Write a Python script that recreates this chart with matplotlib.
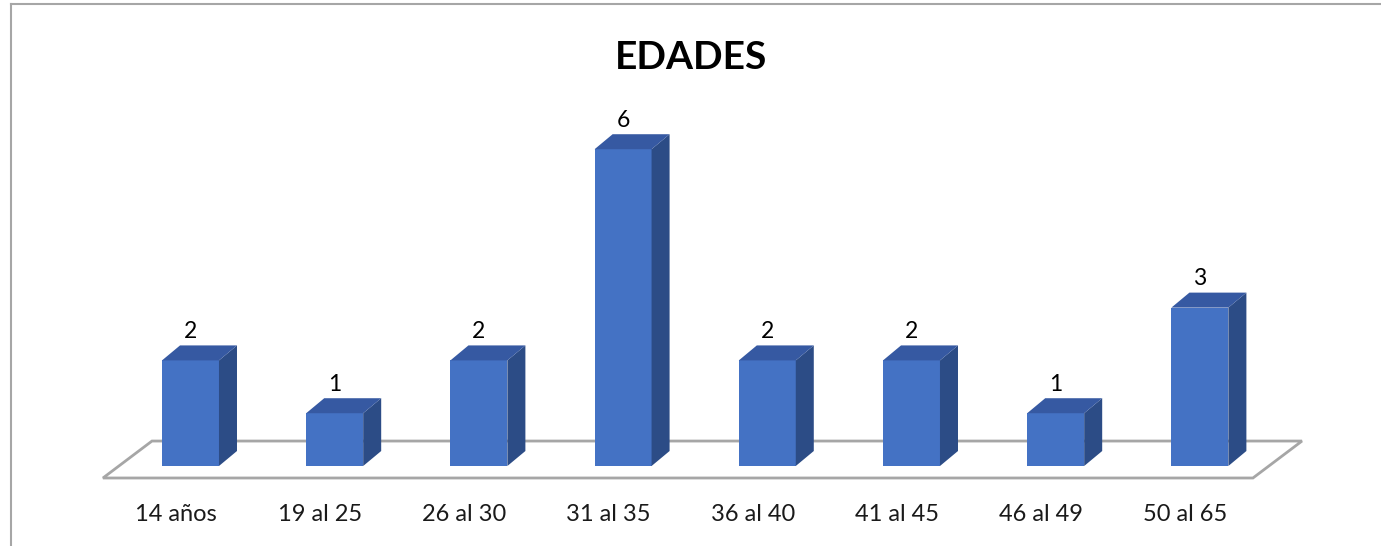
import matplotlib
matplotlib.use("Agg")
import matplotlib.pyplot as plt
from matplotlib.patches import Polygon, Rectangle
from matplotlib.lines import Line2D

# === Data ===
categories = ["14 años", "19 al 25", "26 al 30", "31 al 35",
              "36 al 40", "41 al 45", "46 al 49", "50 al 65"]
values = [2, 1, 2, 6, 2, 2, 1, 3]
title = "EDADES"

# === Style ===
plt.rcParams["font.family"] = ["Lato", "DejaVu Sans"]
front_c = "#4472C4"
top_c = "#3659A2"
side_c = "#2C4C86"
floor_c = "#A6A6A6"
bar_w = 0.395
dx, dy = 0.125, 0.284   # 3D depth offset in data units

fig = plt.figure(figsize=(13.81, 5.46), dpi=100)
ax = fig.add_axes([0, 0, 1, 1])
ax.set_xlim(-1.321, 8.256)
ax.set_ylim(-1.515, 8.826)
ax.axis("off")

# floor parallelogram
n = len(categories)
floor = Polygon([(-0.607, -0.227), (n - 0.632, -0.227),
                 (n - 0.292, 0.473), (-0.267, 0.473)],
                closed=True, fill=False, edgecolor=floor_c, lw=2, zorder=1)
ax.add_patch(floor)

# 3D bars
for i, v in enumerate(values):
    x0 = i - bar_w / 2
    x1 = i + bar_w / 2
    ax.add_patch(Rectangle((x0, 0), bar_w, v, facecolor=front_c,
                           edgecolor="none", zorder=3))
    ax.add_patch(Polygon([(x1, 0), (x1 + dx, dy), (x1 + dx, v + dy), (x1, v)],
                         closed=True, facecolor=side_c, edgecolor="none", zorder=3))
    ax.add_patch(Polygon([(x0, v), (x0 + dx, v + dy), (x1 + dx, v + dy), (x1, v)],
                         closed=True, facecolor=top_c, edgecolor="none", zorder=3))
    ax.text(i, v + 0.55, str(v), ha="center", va="center", fontsize=16.5, color="black")
    ax.text(i - 0.1, -0.91, categories[i], ha="center", va="center",
            fontsize=17, color="#1a1a1a")

ax.text(0.5, 0.895, title, transform=fig.transFigure, ha="center", va="center",
        fontsize=28, fontweight="bold", color="black")

# chart border (top and left visible)
fig.add_artist(Line2D([11 / 1381, 1], [1 - 4 / 546, 1 - 4 / 546],
                      color=floor_c, lw=1.5, transform=fig.transFigure))
fig.add_artist(Line2D([11 / 1381, 11 / 1381], [0, 1 - 4 / 546],
                      color=floor_c, lw=1.5, transform=fig.transFigure))

fig.savefig("out.png", dpi=100)
